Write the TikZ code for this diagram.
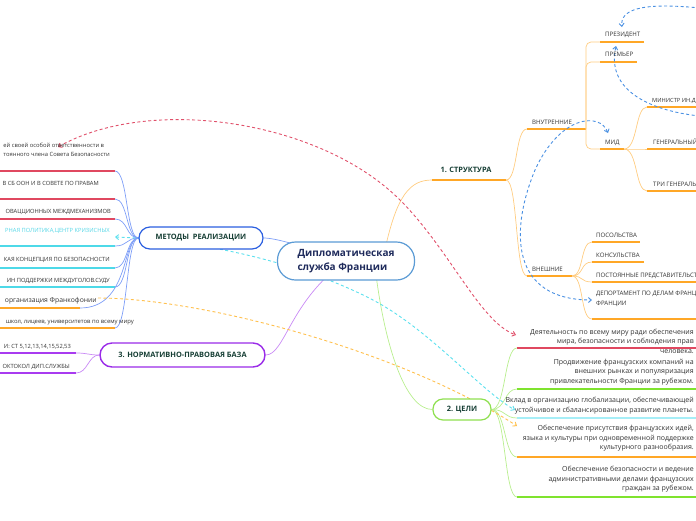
\documentclass[tikz,border=0pt]{standalone}
\usepackage{fontspec}
\setmainfont{Open Sans}
\usetikzlibrary{arrows.meta,calc}
\definecolor{orangeU}{HTML}{FFA726}
\definecolor{orangeL}{HTML}{FFCC80}
\definecolor{redU}{HTML}{E04860}
\definecolor{cyanU}{HTML}{4DD9E8}
\definecolor{cyanT}{HTML}{55D6E6}
\definecolor{cyanG}{HTML}{A6EEF7}
\definecolor{purpleU}{HTML}{A93BF0}
\definecolor{purpleN}{HTML}{9A2BE8}
\definecolor{purpleL}{HTML}{C98AF5}
\definecolor{blueC}{HTML}{7E9EF7}
\definecolor{blueN}{HTML}{2B5FE0}
\definecolor{centralB}{HTML}{5B9BD5}
\definecolor{greenU}{HTML}{7FE32E}
\definecolor{greenL}{HTML}{B8EE8E}
\definecolor{greenN}{HTML}{8FE050}
\definecolor{dashBlue}{HTML}{4A90E2}
\definecolor{dashRed}{HTML}{E0506A}
\definecolor{dashCyan}{HTML}{5CE0EE}
\definecolor{dashOrange}{HTML}{FFC04D}
\definecolor{txtdark}{HTML}{333333}
\definecolor{headtxt}{HTML}{173F35}
\definecolor{centraltxt}{HTML}{1F2B5C}
\pgfdeclarelayer{bg}
\pgfsetlayers{bg,main}
\begin{document}
\begin{tikzpicture}[x=1pt,y=-1pt,
  lbl/.style={font=\fontsize{6.1}{9}\selectfont, text=txtdark, inner sep=0pt},
  lblL/.style={font=\fontsize{5.75}{9}\selectfont, text=txtdark, inner sep=0pt},
  lblm/.style={font=\fontsize{5.8}{9}\selectfont, text=txtdark, inner sep=0pt, align=left},
  ul/.style={line width=1.6pt},
  conn/.style={line width=0.7pt},
  dsh/.style={line width=0.9pt, dash pattern=on 3pt off 2.5pt},
  goal/.style={font=\fontsize{7}{9.5}\selectfont, text=txtdark, inner sep=0pt, align=right, anchor=east},
  hub/.style={draw, fill=white, line width=1.2pt, font=\bfseries\fontsize{7.4}{9}\selectfont, text=headtxt, inner sep=0pt},
  barb/.tip={Straight Barb[length=3pt,width=5pt]},
]
\useasboundingbox (0,0) rectangle (696,520);
\clip (0,0) rectangle (696,520);

% ---------- hubs ----------
\node[hub, draw=blueN, rounded corners=11pt, minimum width=124pt, minimum height=22pt] (meth) at (201,238) {МЕТОДЫ\ \ РЕАЛИЗАЦИИ};
\node[hub, draw=purpleN, line width=1.4pt, rounded corners=12pt, minimum width=165pt, minimum height=24pt] (npb) at (182.5,355) {3. НОРМАТИВНО-ПРАВОВАЯ БАЗА};
\node[hub, draw=greenN, rounded corners=10pt, minimum width=58pt, minimum height=21pt] (goals) at (462,409.5) {2. ЦЕЛИ};
\node[font=\bfseries\fontsize{7.4}{9}\selectfont, text=headtxt, inner sep=0pt] (str) at (466,170) {1. СТРУКТУРА};
\node[draw=centralB, fill=white, line width=1.2pt, rounded corners=18pt, minimum width=137pt, minimum height=38pt, align=left, font=\bfseries\fontsize{10}{14}\selectfont, text=centraltxt] (root) at (346,261) {Дипломатическая\\служба Франции};

% ---------- left items (methods) ----------
\node[lblm, anchor=base east] (la) at (110,156) {ей своей особой ответственности в\\тоянного члена Совета Безопасности};
\node[lblL, anchor=base east] (lb) at (99,185) {В СБ ООН И В СОВЕТЕ ПО ПРАВАМ};
\node[lblL, anchor=base east] (lc) at (111,213) {ОВАЦЦИОННЫХ МЕЖДМЕХАНИЗМОВ};
\node[lblL, anchor=base east, text=cyanT] (ld) at (110,232) {РНАЯ ПОЛИТИКА,ЦЕНТР КРИЗИСНЫХ};
\node[lblL, anchor=base east] (le) at (110,261) {КАЯ КОНЦЕПЦИЯ ПО БЕЗОПАСНОСТИ};
\node[lblL, anchor=base east] (lf) at (110,282) {ИН ПОДДЕРЖКИ МЕЖДУГОЛОВ.СУДУ};
\node[lblL, anchor=base east, font=\fontsize{6.8}{9}\selectfont] (lg) at (97,302.5) {организация Франкофонии};
\node[lblL, anchor=base east, font=\fontsize{5.9}{9}\selectfont] (lh) at (134,323) {школ, лицеев, университетов по всему миру};
\node[lblL, anchor=base east] (li) at (71,348) {И: СТ 5,12,13,14,15,52,53};
\node[lblL, anchor=base east] (lj) at (70,368) {ОКТОКОЛ ДИП.СЛУЖБЫ};

\coordinate (ua) at (115,171); \coordinate (ub) at (115,199); \coordinate (uc) at (115,219);
\coordinate (ud) at (115,246); \coordinate (ue) at (115,268); \coordinate (uf) at (115,287);
\coordinate (ug) at (80,308);  \coordinate (uh) at (115,328);
\coordinate (ui) at (76,353);  \coordinate (uj) at (76,373);

% ---------- structure ----------
\node[lbl, anchor=base west] (svn) at (532,124) {ВНУТРЕННИЕ};
\node[lbl, anchor=base west] (sve) at (532,271) {ВНЕШНИЕ};
\node[lbl, anchor=base west] (sp) at (605,36) {ПРЕЗИДЕНТ};
\node[lbl, anchor=base west] (spm) at (605,56) {ПРЕМЬЕР};
\node[lbl, anchor=base west] (smid) at (605,144) {МИД};
\node[lbl, anchor=base west, font=\fontsize{5.7}{9}\selectfont] (smin) at (652,102) {МИНИСТР ИН.Д};
\node[lbl, anchor=base west] (sgen) at (653,144) {ГЕНЕРАЛЬНЫЙ};
\node[lbl, anchor=base west] (stri) at (653,186) {ТРИ ГЕНЕРАЛЬ};
\node[lbl, anchor=base west] (spos) at (596,237) {ПОСОЛЬСТВА};
\node[lbl, anchor=base west] (skon) at (596,257) {КОНСУЛЬСТВА};
\node[lbl, anchor=base west] (spost) at (596,277) {ПОСТОЯННЫЕ ПРЕДСТАВИТЕЛЬСТ};
\node[lbl, anchor=base west, align=left, font=\fontsize{6.1}{10}\selectfont] (sdep) at (596,305) {ДЕПОРТАМЕНТ ПО ДЕЛАМ ФРАНЦ\\ФРАНЦИИ};

\coordinate (strL) at (432,180); \coordinate (strR) at (506,180);
\coordinate (vnL) at (527,129);  \coordinate (vnR) at (586,129);
\coordinate (veL) at (527,276);  \coordinate (veR) at (572,276);
\coordinate (prL) at (600,42);   \coordinate (prR) at (644,42);
\coordinate (pmL) at (600,62);   \coordinate (pmR) at (637,62);
\coordinate (mdL) at (600,149);  \coordinate (mdR) at (624,149);
\coordinate (mnL) at (647,107);  \coordinate (gnL) at (647,149);  \coordinate (trL) at (647,191);
\coordinate (psL) at (592,242);  \coordinate (psR) at (640,242);
\coordinate (knL) at (592,262);  \coordinate (knR) at (644,262);
\coordinate (ptL) at (592,282);  \coordinate (dpL) at (592,319);

% ---------- goals ----------
\node[goal] (g1) at (694,341) {Деятельность по всему миру ради обеспечения\\мира, безопасности и соблюдения прав\\человека.};
\node[goal] (g2) at (694,372) {Продвижение французских компаний на\\внешних рынках и популяризация\\привлекательности Франции за рубежом.};
\node[goal] (g3) at (694,405.5) {Вклад в организацию глобализации, обеспечивающей\\устойчивое и сбалансированное развитие планеты.};
\node[goal] (g4) at (694,438.5) {Обеспечение присутствия французских идей,\\языка и культуры при одновременной поддержке\\культурного разнообразия.};
\node[goal] (g5) at (694,479.5) {Обеспечение безопасности и ведение\\административными делами французских\\граждан за рубежом.};
\coordinate (gu1) at (517,348); \coordinate (gu2) at (517,389); \coordinate (gu3) at (517,418);
\coordinate (gu4) at (517,457); \coordinate (gu5) at (517,497);

% free ends of dashed links
\coordinate (redA) at (58,147);   \coordinate (redB) at (516,335);
\coordinate (cyA) at (115,237);   \coordinate (cyB) at (515,410);
\coordinate (orA) at (98,298);    \coordinate (orB) at (517,426);
\coordinate (blA0) at (700,8);    \coordinate (blA1) at (622,27);
\coordinate (blB0) at (700,116);  \coordinate (blB1) at (616,46);
\coordinate (blC0) at (608,133);  \coordinate (blC1) at (592,300);

\begin{pgfonlayer}{bg}
% ---- underlines left
\draw[ul, redU] (-5,171) -- (ua);
\draw[ul, redU] (-5,199) -- (ub);
\draw[ul, redU] (-5,219) -- (uc);
\draw[ul, cyanU] (-5,246) -- (ud);
\draw[ul, cyanU] (-5,268) -- (ue);
\draw[ul, cyanU] (-5,287) -- (uf);
\draw[ul, orangeU] (-5,308) -- (ug);
\draw[ul, orangeU] (-5,328) -- (uh);
\draw[ul, purpleU] (-5,353) -- (ui);
\draw[ul, purpleU] (-5,373) -- (uj);
% ---- method connectors
\foreach \u/\yy in {ua/171,ub/199,uc/219,ud/246,ue/268,uf/287,uh/328}
  \draw[conn, blueC] (meth.west) .. controls (126,238) and (128,\yy) .. (\u);
\draw[conn, blueC] (meth.west) .. controls (122,238) and (130,308) .. (ug);
% ---- legal base connectors
\draw[conn, purpleL] (npb.west) .. controls (88,355) and (88,353) .. (ui);
\draw[conn, purpleL] (npb.west) .. controls (88,355) and (88,373) .. (uj);
% ---- hubs to root
\draw[conn, blueC] (meth.east) .. controls (275,238) and (300,245) .. (root.center);
\draw[conn, purpleL] (npb.east) .. controls (285,355) and (290,300) .. (root.center);
\draw[conn, orangeL] ($(root.north)+(39,8)$) .. controls (397,195) and (410,180) .. (strL);
\draw[conn, greenL] ($(root.south)+(30,-6)$) .. controls (385,345) and (405,409.5) .. (goals.west);
% ---- structure
\draw[ul, orangeU] (strL) -- (strR);
\draw[conn, orangeL] (strR) .. controls (518,180) and (515,129) .. (vnL);
\draw[conn, orangeL] (strR) .. controls (518,180) and (515,276) .. (veL);
\draw[ul, orangeU] (vnL) -- (vnR);
\draw[ul, orangeU] (veL) -- (veR);
\draw[conn, orangeL, rounded corners=5pt] (vnR) |- (prL);
\draw[conn, orangeL, rounded corners=5pt] (vnR) |- (pmL);
\draw[conn, orangeL, rounded corners=5pt] (vnR) |- (mdL);
\draw[ul, orangeU] (prL) -- (prR);
\draw[ul, orangeU] (pmL) -- (pmR);
\draw[ul, orangeU] (mdL) -- (mdR);
\foreach \c/\yy in {mnL/107,gnL/149,trL/191}{
  \draw[conn, orangeL] (mdR) .. controls (638,149) and (635,\yy) .. (\c);
  \draw[ul, orangeU] (\c) -- (705,\yy);
}
\foreach \c/\yy in {psL/242,knL/262,ptL/282,dpL/319}
  \draw[conn, orangeL] (veR) .. controls (584,276) and (580,\yy) .. (\c);
\draw[ul, orangeU] (psL) -- (psR);
\draw[ul, orangeU] (knL) -- (knR);
\draw[ul, orangeU] (ptL) -- (705,282);
\draw[ul, orangeU] (dpL) -- (705,319);
% ---- goals
\draw[ul, redU] (gu1) -- (705,348);
\draw[ul, greenU] (gu2) -- (705,389);
\draw[line width=1.2pt, cyanG] (gu3) -- (705,418);
\draw[ul, orangeU] (gu4) -- (705,457);
\draw[ul, greenU] (gu5) -- (705,497);
\foreach \u/\yy in {gu1/348,gu2/389,gu3/418,gu4/457,gu5/497}
  \draw[conn, greenL] (goals.east) .. controls (506,409.5) and (504,\yy) .. (\u);
% ---- dashed links
\draw[dsh, dashRed, barb-barb] (redA) .. controls (150,95) and (320,120) .. (400,200) .. controls (450,250) and (480,322) .. (redB);
\draw[dsh, dashCyan, barb-barb] (cyA) .. controls (200,240) and (300,262) .. (373,300) .. controls (430,330) and (480,390) .. (cyB);
\draw[dsh, dashOrange, -barb] (orA) .. controls (200,298) and (400,350) .. (orB);
\draw[dsh, dashBlue, -barb] (blA0) .. controls (640,2) and (620,10) .. (blA1);
\draw[dsh, dashBlue, -barb] (blB0) .. controls (660,112) and (605,95) .. (blB1);
\draw[dsh, dashBlue, barb-barb] (blC0) .. controls (600,112) and (560,115) .. (535,170) .. controls (510,230) and (510,300) .. (blC1);
\end{pgfonlayer}
\end{tikzpicture}
\end{document}
